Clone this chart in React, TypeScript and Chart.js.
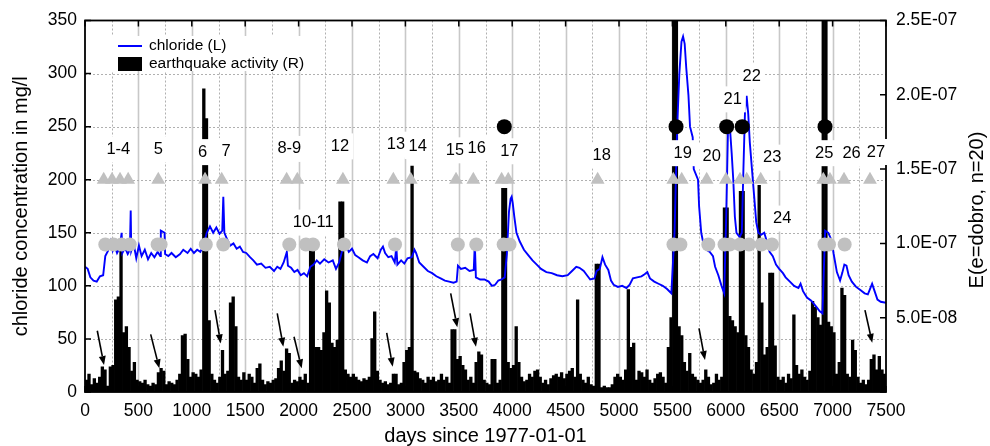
import React, { useEffect, useRef } from 'react';
import { Chart, registerables } from 'chart.js';
Chart.register(...registerables);

const FONT = '"Liberation Sans", Arial, Helvetica, sans-serif';

// ---- chloride concentration (mg/l), left axis ----
const chlorideDays = [
  0, 25, 50, 80, 110, 140, 170, 190, 215, 240, 260, 280, 300, 325, 343, 350, 375, 400, 420, 428, 433, 455, 480, 505, 530, 560, 590, 620, 650, 680,
  705, 710, 745, 750, 780, 810, 850, 890, 920, 960, 990, 1020, 1050, 1080, 1110, 1140, 1170, 1200, 1230, 1260, 1285, 1295, 1305, 1330, 1360, 1390, 1420, 1450, 1480, 1510,
  1545, 1576, 1610, 1650, 1690, 1730, 1770, 1800, 1830, 1860, 1890, 1900, 1930, 1960, 1990, 2020, 2050, 2080, 2110, 2140, 2170, 2200, 2240, 2280, 2320, 2350, 2380, 2410, 2440, 2470,
  2500, 2530, 2560, 2600, 2640, 2670, 2700, 2740, 2770, 2790, 2810, 2840, 2870, 2900, 2915, 2925, 2960, 2990, 3020, 3060, 3085, 3100, 3130, 3170, 3210, 3250, 3290, 3330, 3370, 3410,
  3450, 3480, 3492, 3520, 3560, 3600, 3640, 3650, 3660, 3700, 3740, 3780, 3810, 3840, 3870, 3900, 3930, 3950, 3970, 3985, 3995, 4005, 4020, 4040, 4070, 4110, 4150, 4190, 4230, 4270,
  4320, 4370, 4420, 4470, 4520, 4560, 4600, 4630, 4670, 4700, 4730, 4770, 4790, 4820, 4845, 4870, 4900, 4925, 4950, 4990, 5030, 5070, 5100, 5130, 5170, 5210, 5240, 5265, 5290, 5330,
  5370, 5410, 5450, 5490, 5520, 5545, 5565, 5585, 5600, 5615, 5630, 5650, 5665, 5690, 5700, 5740, 5750, 5770, 5790, 5820, 5850, 5880, 5900, 5930, 5960, 5985, 6005, 6020, 6040, 6055,
  6070, 6085, 6100, 6130, 6150, 6165, 6180, 6195, 6210, 6225, 6245, 6265, 6285, 6305, 6330, 6360, 6390, 6410, 6440, 6470, 6500, 6535, 6560, 6600, 6640, 6680, 6700, 6723, 6760, 6800,
  6850, 6880, 6905, 6930, 6960, 6990, 7010, 7040, 7070, 7090, 7110, 7130, 7150, 7180, 7220, 7260, 7300, 7330, 7350, 7370, 7390, 7420, 7450, 7500,
];
const chlorideMgL = [
  118, 116, 108, 105, 104, 109, 110, 128, 133, 142, 133, 137, 131, 136, 150, 131, 136, 130, 134, 171, 133, 140, 126, 138, 128, 134, 125, 131, 127, 132,
  128, 152, 150, 130, 128, 131, 127, 130, 134, 131, 135, 131, 134, 132, 138, 150, 156, 150, 155, 149, 152, 184, 150, 144, 138, 140, 135, 137, 132, 131,
  127, 124, 120, 121, 117, 118, 114, 118, 116, 122, 132, 119, 117, 113, 115, 110, 112, 109, 118, 120, 124, 121, 125, 122, 124, 116, 122, 134, 139, 132,
  135, 129, 127, 124, 122, 128, 130, 126, 134, 137, 131, 127, 128, 122, 137, 120, 124, 121, 126, 127, 134, 131, 122, 118, 114, 112, 109, 107, 105, 104,
  103, 104, 119, 116, 117, 114, 115, 140, 108, 106, 106, 104, 100, 101, 105, 106, 108, 130, 170, 182, 184, 178, 165, 150, 142, 134, 129, 124, 120, 116,
  113, 112, 110, 109, 110, 114, 118, 117, 114, 110, 106, 107, 114, 116, 127, 120, 115, 105, 101, 99, 100, 98, 101, 107, 108, 109, 111, 113, 107, 104,
  102, 100, 97, 93, 150, 250, 300, 330, 335, 328, 305, 280, 250, 240, 210, 200, 175, 150, 140, 134, 132, 128, 118, 110, 100, 93, 170, 245, 247, 225,
  200, 165, 150, 146, 150, 210, 265, 279, 262, 235, 210, 185, 160, 150, 148, 150, 140, 132, 128, 120, 116, 112, 108, 104, 100, 98, 102, 95, 89, 86,
  80, 76, 74, 152, 150, 143, 130, 113, 105, 112, 120, 119, 110, 104, 99, 96, 93, 92, 97, 102, 96, 87, 85, 84,
];

// ---- earthquake activity E (units of 1E-09), right axis, 25-day bins from day 0 ----
const quakeStartDay = 0;
const quakeBinDays = 25;
const quakeE9 = [
  8, 12, 5, 9, 6, 10, 17, 15, 4, 17, 18, 62, 64, 100, 40, 44, 30, 14, 20, 8,
  7, 6, 8, 5, 4, 6, 5, 13, 16, 14, 5, 7, 6, 5, 8, 12, 38, 39, 22, 10,
  13, 12, 10, 15, 204, 184, 48, 12, 8, 6, 10, 28, 12, 14, 60, 64, 44, 10, 8, 13,
  8, 12, 10, 6, 16, 19, 8, 5, 7, 6, 8, 9, 16, 21, 14, 29, 26, 6, 8, 7,
  10, 8, 12, 6, 95, 95, 30, 30, 28, 40, 68, 60, 33, 30, 35, 128, 128, 15, 12, 10,
  12, 10, 8, 7, 9, 8, 10, 36, 54, 14, 8, 6, 7, 5, 6, 12, 12, 5, 6, 20,
  28, 30, 152, 14, 13, 9, 8, 6, 10, 8, 10, 7, 8, 12, 8, 10, 6, 42, 42, 22,
  24, 18, 15, 8, 10, 6, 20, 27, 25, 8, 6, 5, 22, 22, 6, 8, 137, 137, 20, 16,
  18, 44, 20, 10, 7, 8, 12, 10, 14, 15, 10, 6, 8, 5, 9, 11, 12, 10, 13, 9,
  12, 14, 16, 10, 62, 12, 8, 6, 10, 5, 4, 86, 86, 3, 4, 3, 3, 5, 10, 12,
  10, 8, 15, 69, 30, 33, 8, 14, 13, 10, 15, 8, 6, 9, 12, 13, 10, 6, 30, 50,
  300, 300, 44, 38, 20, 14, 26, 12, 10, 8, 6, 8, 15, 10, 5, 6, 12, 8, 10, 124,
  124, 51, 48, 44, 40, 135, 135, 38, 30, 15, 12, 20, 139, 60, 25, 30, 80, 80, 31, 10,
  8, 10, 6, 12, 9, 52, 18, 12, 15, 10, 8, 14, 61, 57, 50, 45, 300, 300, 47, 44,
  40, 12, 20, 70, 65, 12, 10, 35, 28, 10, 6, 8, 5, 8, 22, 25, 15, 24, 15, 12,
];

// ---- event markers (days) ----
const triangleLevel = 200;
const triangleDays = [175, 253, 328, 404, 686, 1124, 1280, 1888, 1988, 2415, 2887, 3050, 3474, 3636, 3901, 3963, 4800, 5508, 5587, 5821, 6002, 6133, 6196, 6327, 6913, 6975, 7107, 7350];
const circleLevel = 139;
const circleDays = [190, 267, 342, 419, 680, 708, 1131, 1295, 1913, 2069, 2135, 2425, 2903, 3491, 3664, 3920, 3975, 5510, 5575, 5836, 5988, 6037, 6133, 6217, 6334, 6432, 6924, 6966, 7113];
const blackDotLevel = 250;
const blackDotDays = [3926, 5534, 6008, 6154, 6929];

// ---- event numbers ----
const eventLabelText = ['1-4', '5', '6', '7', '8-9', '10-11', '12', '13', '14', '15', '16', '17', '18', '19', '20', '21', '22', '23', '24', '25', '26', '27'];
const eventLabelDay = [312, 686, 1100, 1322, 1913, 2137, 2387, 2912, 3115, 3464, 3667, 3973, 4838, 5596, 5868, 6064, 6242, 6435, 6529, 6922, 7178, 7406];
const eventLabelLevel = [228.6, 228.6, 226, 227, 229, 159.6, 231.4, 233, 231.7, 227.7, 229.9, 226.8, 223, 225, 222, 275.7, 297.3, 220.8, 163.4, 225, 224.6, 226.1];

// ---- arrows (day, mg/l) ----
const arrowStartDay = [115, 615, 1217, 1800, 1957, 2825, 3424, 3605, 5749, 7303];
const arrowStartVal = [57.7, 54.3, 77.2, 74, 52, 55.8, 92.9, 74, 59.9, 77.2];
const arrowEndDay = [178, 696, 1271, 1857, 2029, 2881, 3486, 3661, 5805, 7371];
const arrowEndVal = [25.4, 22.3, 45.8, 42.6, 22.3, 23.8, 60.9, 42.6, 30.1, 46.4];

function fmtE(v: number): string {
  if (v === 0) return '';
  const s = (v * 1e-9).toExponential(1);
  const [m, e] = s.split('e');
  const n = parseInt(e, 10);
  return m + 'E' + (n < 0 ? '-' : '+') + String(Math.abs(n)).padStart(2, '0');
}

const overlayPlugin = {
  id: 'overlay',
  beforeDatasetsDraw(chart: any) {
    const { ctx, chartArea: a } = chart;
    const xs = chart.scales.x;
    const ys = chart.scales.y;
    ctx.save();
    xs.ticks.forEach((t: any) => {
      const v = t.value;
      if (v <= xs.min || v >= xs.max) return;
      const px = Math.round(xs.getPixelForValue(v)) + 0.5;
      ctx.beginPath();
      if (v % 500 === 0) {
        ctx.setLineDash([]);
        ctx.lineWidth = 1.6;
        ctx.strokeStyle = '#c8c8c8';
      } else {
        ctx.setLineDash([2, 2]);
        ctx.lineWidth = 1;
        ctx.strokeStyle = '#b0b0b0';
      }
      ctx.moveTo(px, a.top);
      ctx.lineTo(px, a.bottom);
      ctx.stroke();
    });
    ctx.setLineDash([2, 2]);
    ctx.lineWidth = 1;
    ctx.strokeStyle = '#b0b0b0';
    ys.ticks.forEach((t: any) => {
      if (t.value <= ys.min || t.value >= ys.max) return;
      const py = Math.round(ys.getPixelForValue(t.value)) + 0.5;
      ctx.beginPath();
      ctx.moveTo(a.left, py);
      ctx.lineTo(a.right, py);
      ctx.stroke();
    });
    ctx.restore();
  },
  afterDatasetsDraw(chart: any) {
    const { ctx, chartArea: a } = chart;
    const xs = chart.scales.x;
    const ys = chart.scales.y;
    const y2 = chart.scales.y2;
    ctx.save();
    ctx.setLineDash([]);
    // frame
    ctx.strokeStyle = '#000';
    ctx.lineWidth = 1.8;
    ctx.strokeRect(a.left, a.top, a.right - a.left, a.bottom - a.top);
    // inner tick marks
    ctx.lineWidth = 1.5;
    ctx.beginPath();
    xs.ticks.forEach((t: any) => {
      if (t.value % 500 !== 0) return;
      const px = xs.getPixelForValue(t.value);
      ctx.moveTo(px, a.top);
      ctx.lineTo(px, a.top + 6);
      ctx.moveTo(px, a.bottom);
      ctx.lineTo(px, a.bottom - 6);
    });
    ys.ticks.forEach((t: any) => {
      const py = ys.getPixelForValue(t.value);
      ctx.moveTo(a.left, py);
      ctx.lineTo(a.left + 6, py);
    });
    y2.ticks.forEach((t: any) => {
      const py = y2.getPixelForValue(t.value);
      ctx.moveTo(a.right, py);
      ctx.lineTo(a.right - 6, py);
    });
    ctx.stroke();

    // arrows
    ctx.fillStyle = '#000';
    ctx.lineWidth = 1.6;
    for (let i = 0; i < arrowStartDay.length; i++) {
      const x0 = xs.getPixelForValue(arrowStartDay[i]);
      const yy0 = ys.getPixelForValue(arrowStartVal[i]);
      const x1 = xs.getPixelForValue(arrowEndDay[i]);
      const yy1 = ys.getPixelForValue(arrowEndVal[i]);
      const ang = Math.atan2(yy1 - yy0, x1 - x0);
      const hl = 9, hw = 3.5;
      const bx = x1 - Math.cos(ang) * hl;
      const by = yy1 - Math.sin(ang) * hl;
      ctx.beginPath();
      ctx.moveTo(x0, yy0);
      ctx.lineTo(bx, by);
      ctx.stroke();
      ctx.beginPath();
      ctx.moveTo(x1, yy1);
      ctx.lineTo(bx + Math.sin(ang) * hw, by - Math.cos(ang) * hw);
      ctx.lineTo(bx - Math.sin(ang) * hw, by + Math.cos(ang) * hw);
      ctx.closePath();
      ctx.fill();
    }

    // event labels with white boxes
    ctx.font = '16.5px ' + FONT;
    ctx.textAlign = 'center';
    ctx.textBaseline = 'middle';
    for (let i = 0; i < eventLabelText.length; i++) {
      const px = xs.getPixelForValue(eventLabelDay[i]);
      const py = ys.getPixelForValue(eventLabelLevel[i]);
      const w = ctx.measureText(eventLabelText[i]).width;
      ctx.fillStyle = '#fff';
      ctx.fillRect(px - w / 2 - 4, py - 13, w + 8, 26);
      ctx.fillStyle = '#000';
      ctx.fillText(eventLabelText[i], px, py);
    }

    // legend
    ctx.fillStyle = '#fff';
    ctx.fillRect(112, 36, 202, 35);
    ctx.strokeStyle = '#0000ff';
    ctx.lineWidth = 2;
    ctx.beginPath();
    ctx.moveTo(118, 46);
    ctx.lineTo(142, 46);
    ctx.stroke();
    ctx.fillStyle = '#000';
    ctx.fillRect(118, 57, 24, 14);
    ctx.font = '15.5px ' + FONT;
    ctx.textAlign = 'left';
    ctx.fillText('chloride (L)', 149, 46);
    ctx.fillText('earthquake activity (R)', 149, 64);

    // right axis title (reads bottom to top)
    ctx.font = '20px ' + FONT;
    ctx.textAlign = 'center';
    ctx.translate(977, 210);
    ctx.rotate(-Math.PI / 2);
    ctx.fillText('E(e=dobro, n=20)', 0, 0);
    ctx.restore();
  },
};

export default function App() {
  const ref = useRef<HTMLCanvasElement>(null);
  useEffect(() => {
    document.body.style.margin = '0';
    const tickFont = { family: FONT, size: 17.5 };
    const chart = new Chart(ref.current as HTMLCanvasElement, {
      type: 'bar',
      data: {
        datasets: [
          {
            type: 'line',
            label: 'chloride (L)',
            yAxisID: 'y',
            data: chlorideDays.map((d, i) => ({ x: d, y: chlorideMgL[i] })),
            borderColor: '#0000ff',
            borderWidth: 1.9,
            pointRadius: 0,
            tension: 0,
            order: 5,
          } as any,
          {
            type: 'bar',
            label: 'earthquake activity (R)',
            yAxisID: 'y2',
            data: quakeE9.map((v, i) => ({ x: quakeStartDay + (i + 0.5) * quakeBinDays, y: v })),
            backgroundColor: '#000',
            borderWidth: 0,
            barPercentage: 1,
            categoryPercentage: 1,
            order: 10,
          } as any,
          {
            type: 'line',
            yAxisID: 'y',
            data: triangleDays.map((d) => ({ x: d, y: triangleLevel })),
            showLine: false,
            pointStyle: 'triangle',
            pointRadius: 8,
            pointBackgroundColor: '#c0c0c0',
            pointBorderWidth: 0,
            pointBorderColor: 'rgba(0,0,0,0)',
            order: 2,
          } as any,
          {
            type: 'line',
            yAxisID: 'y',
            data: circleDays.map((d) => ({ x: d, y: circleLevel })),
            showLine: false,
            pointStyle: 'circle',
            pointRadius: 7,
            pointBackgroundColor: '#c0c0c0',
            pointBorderWidth: 0,
            pointBorderColor: 'rgba(0,0,0,0)',
            order: 2,
          } as any,
          {
            type: 'line',
            yAxisID: 'y',
            data: blackDotDays.map((d) => ({ x: d, y: blackDotLevel })),
            showLine: false,
            pointStyle: 'circle',
            pointRadius: 7.5,
            pointBackgroundColor: '#000',
            pointBorderWidth: 0,
            pointBorderColor: 'rgba(0,0,0,0)',
            order: 1,
          } as any,
        ],
      },
      options: {
        responsive: false,
        animation: false,
        events: [],
        layout: { padding: { top: 20, left: 0, right: 0, bottom: 0 } },
        plugins: { legend: { display: false }, tooltip: { enabled: false } },
        scales: {
          x: {
            type: 'linear',
            min: 0,
            max: 7500,
            offset: false,
            grid: { display: false, drawTicks: false },
            border: { display: false },
            ticks: {
              stepSize: 250,
              autoSkip: false,
              maxRotation: 0,
              padding: 9,
              color: '#000',
              font: tickFont,
              callback: (v: any) => (Number(v) % 500 === 0 ? String(v) : ''),
            },
            title: {
              display: true,
              text: 'days since 1977-01-01',
              color: '#000',
              font: { family: FONT, size: 20, lineHeight: 1 },
              padding: { top: 0, bottom: 0 },
            },
            afterFit: (s: any) => { s.height = 54; },
          },
          y: {
            type: 'linear',
            position: 'left',
            min: 0,
            max: 350,
            grid: { display: false, drawTicks: false },
            border: { display: false },
            ticks: { stepSize: 50, padding: 8, color: '#000', font: tickFont },
            title: {
              display: true,
              text: 'chloride concentration in mg/l',
              color: '#000',
              font: { family: FONT, size: 20, lineHeight: 1 },
              padding: { top: 11, bottom: 0 },
            },
            afterFit: (s: any) => { s.width = 85; },
          },
          y2: {
            type: 'linear',
            position: 'right',
            min: 0,
            max: 250,
            grid: { display: false, drawTicks: false },
            border: { display: false },
            ticks: { stepSize: 50, padding: 10, color: '#000', font: tickFont, callback: (v: any) => fmtE(Number(v)) },
            afterFit: (s: any) => { s.width = 104; },
          },
        },
      } as any,
      plugins: [overlayPlugin],
    });
    return () => chart.destroy();
  }, []);
  return (
    <div style={{ width: 990, height: 446 }}>
      <canvas ref={ref} width={990} height={446} style={{ display: 'block' }} />
    </div>
  );
}
